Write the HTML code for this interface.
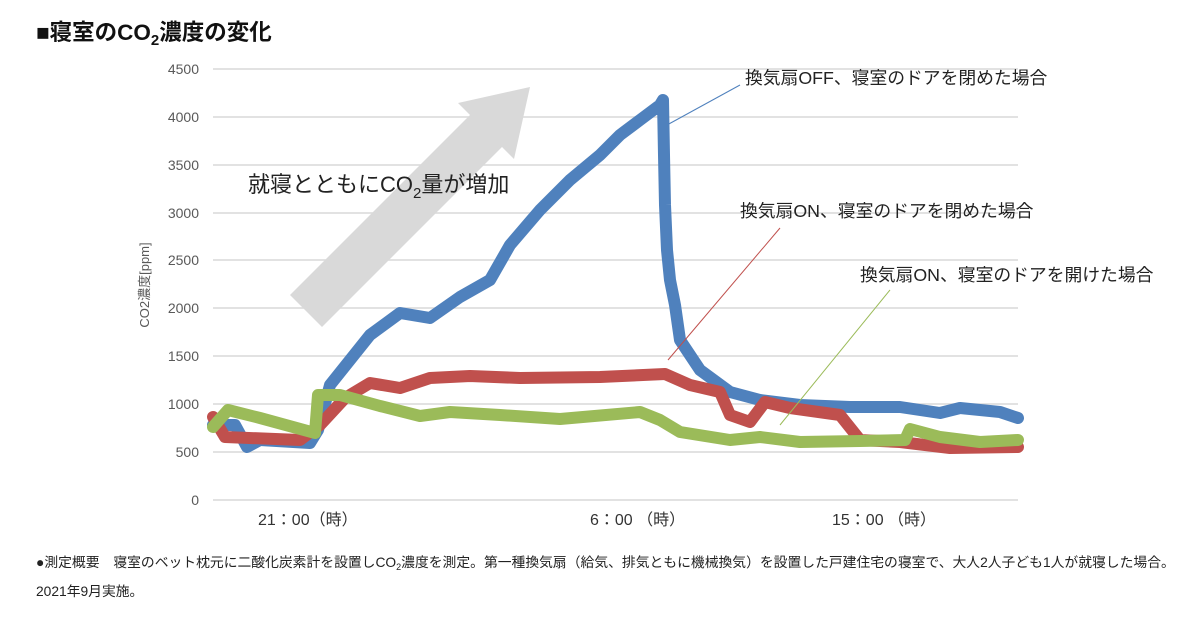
<!DOCTYPE html><html><head><meta charset="utf-8"><style>
body{margin:0;background:#fff;width:1200px;height:620px;overflow:hidden;font-family:"Liberation Sans","Noto Sans CJK JP",sans-serif}
</style></head><body>
<svg width="1200" height="620" xmlns="http://www.w3.org/2000/svg" font-family="Liberation Sans, Noto Sans CJK JP, sans-serif">
<text x="36" y="40" font-size="22.5" font-weight="bold" fill="#111">■寝室のCO<tspan font-size="15" dy="5">2</tspan><tspan dy="-5">濃度の変化</tspan></text>
<g stroke="#d9d9d9" stroke-width="1.5">
<line x1="213" x2="1018" y1="69" y2="69"/><line x1="213" x2="1018" y1="117" y2="117"/><line x1="213" x2="1018" y1="165" y2="165"/><line x1="213" x2="1018" y1="213" y2="213"/><line x1="213" x2="1018" y1="260" y2="260"/><line x1="213" x2="1018" y1="308" y2="308"/><line x1="213" x2="1018" y1="356" y2="356"/><line x1="213" x2="1018" y1="404" y2="404"/><line x1="213" x2="1018" y1="452" y2="452"/><line x1="213" x2="1018" y1="500" y2="500"/></g>
<g font-size="14" fill="#595959" text-anchor="end">
<text x="199" y="74">4500</text><text x="199" y="122">4000</text><text x="199" y="170">3500</text><text x="199" y="218">3000</text><text x="199" y="265">2500</text><text x="199" y="313">2000</text><text x="199" y="361">1500</text><text x="199" y="409">1000</text><text x="199" y="457">500</text><text x="199" y="505">0</text></g>
<text transform="translate(149,285) rotate(-90)" font-size="13" fill="#595959" text-anchor="middle">CO2濃度[ppm]</text>
<g font-size="16" fill="#333"><text x="258" y="525">21：00（時）</text><text x="590" y="525">6：00 （時）</text><text x="832" y="525">15：00 （時）</text></g>
<polygon points="290,300 470,120 458,108 530,92 514,164 502,152 322,332" fill="#d9d9d9" stroke="none" transform="translate(0,-5)"/>
<text x="248" y="192" font-size="22" fill="#222">就寝とともにCO<tspan font-size="15" dy="6">2</tspan><tspan dy="-6">量が増加</tspan></text>
<g fill="none" stroke-width="12" stroke-linejoin="round" stroke-linecap="round">
<polyline stroke="#4f81bd" points="213,425 235,425 247,447 260,440 310,443 318,430 330,385 350,360 370,335 400,313 430,318 460,297 490,280 510,245 540,210 570,180 600,155 620,135 640,120 660,105 663,100 664,155 665,205 667,250 670,280 675,305 680,340 690,355 700,370 730,392 760,400 800,405 850,407 900,407 940,413 960,408 1000,412 1018,418"/>
<polyline stroke="#c0504d" points="213,417 225,437 300,440 320,425 345,398 370,383 400,388 430,378 470,376 520,378 600,377 665,374 690,385 720,392 730,415 750,422 765,402 790,408 840,415 860,440 900,442 950,448 1018,447"/>
<polyline stroke="#9bbb59" points="213,427 228,410 260,418 315,433 318,395 340,395 380,406 420,416 450,412 500,415 560,419 640,412 660,420 680,432 730,440 760,437 800,442 860,441 905,440 910,429 940,437 980,442 1018,440"/>
</g>
<g stroke-width="1"><line x1="667" y1="125" x2="740" y2="85" stroke="#4f81bd"/><line x1="668" y1="360" x2="780" y2="228" stroke="#c0504d"/><line x1="780" y1="425" x2="890" y2="290" stroke="#9bbb59"/></g>
<g font-size="17.8" fill="#222"><text x="745" y="84">換気扇OFF、寝室のドアを閉めた場合</text><text x="740" y="217">換気扇ON、寝室のドアを閉めた場合</text><text x="860" y="281">換気扇ON、寝室のドアを開けた場合</text></g>
<text x="36" y="567" font-size="13.8" fill="#222">●測定概要　寝室のベット枕元に二酸化炭素計を設置しCO<tspan font-size="9" dy="3">2</tspan><tspan dy="-3">濃度を測定。第一種換気扇（給気、排気ともに機械換気）を設置した戸建住宅の寝室で、大人2人子ども1人が就寝した場合。</tspan></text>
<text x="36" y="596" font-size="13.8" fill="#222">2021年9月実施。</text>
</svg></body></html>
